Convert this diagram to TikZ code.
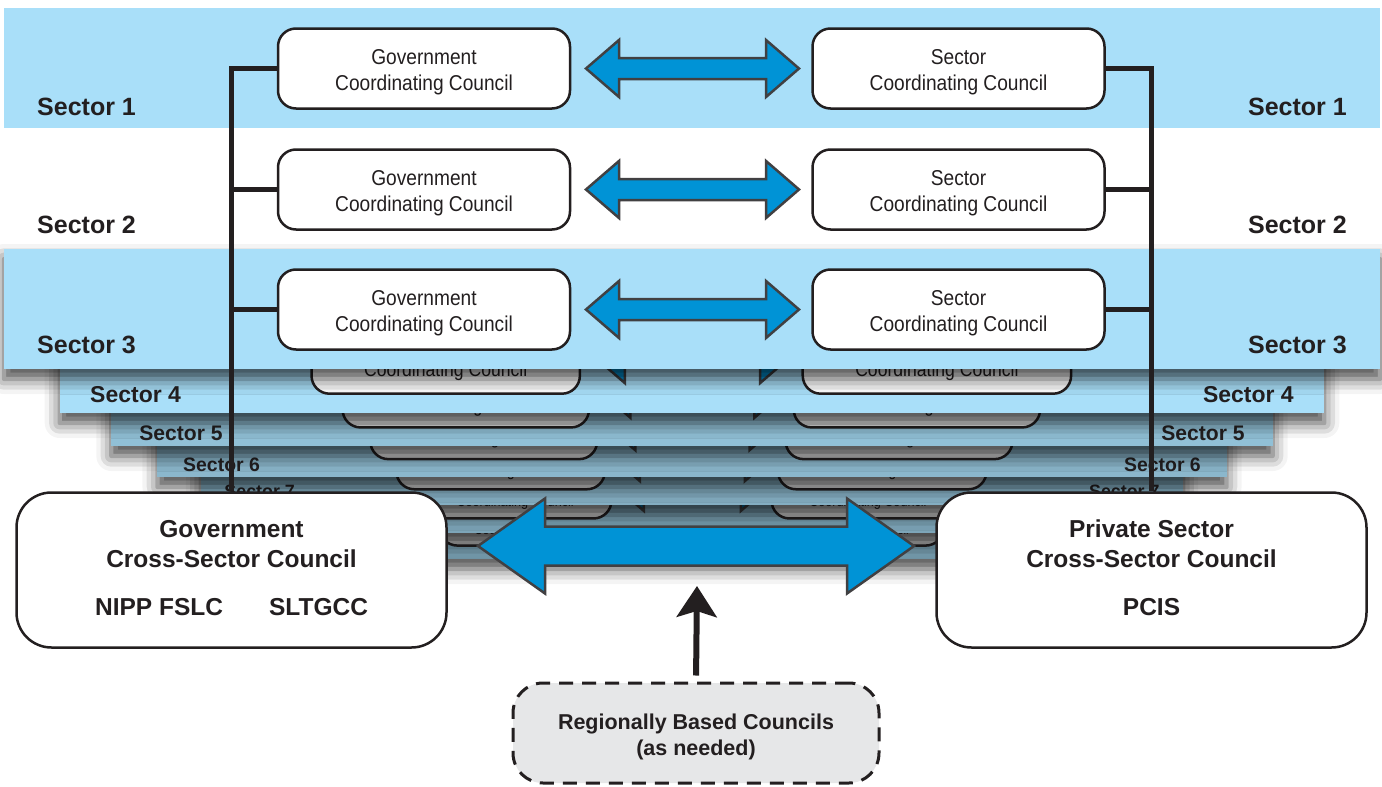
\documentclass[tikz,border=0pt]{standalone}
\usepackage{fontspec}
\setmainfont{Liberation Sans}
\newfontfamily\narrowfont[FakeStretch=0.89]{Liberation Sans}
\usetikzlibrary{arrows.meta, shadows.blur}

\definecolor{ink}{HTML}{231F20}
\definecolor{sheetblue}{HTML}{A9DFF9}
\definecolor{arrowblue}{HTML}{0093D6}
\definecolor{arrowedge}{HTML}{414042}
\definecolor{regfill}{HTML}{E6E7E8}

\tikzset{
  council/.style={draw=ink, line width=2.5pt, rounded corners=18pt,
    minimum width=292pt, minimum height=80pt, inner sep=0pt, align=center,
    text=ink, font=\narrowfont\fontsize{21.5}{26}\selectfont},
  crossbox/.style={draw=ink, fill=white, line width=2.5pt, rounded corners=35pt,
    minimum width=430pt, minimum height=155pt, inner sep=0pt, align=center,
    text=ink, font=\bfseries\fontsize{24.5}{30}\selectfont},
  regional/.style={draw=ink, fill=regfill, line width=3pt, dash pattern=on 14pt off 9pt,
    rounded corners=30pt, minimum width=366pt, minimum height=100pt, align=center,
    text=ink, font=\bfseries\fontsize{21.5}{26}\selectfont},
  sectorlabel/.style={text=ink, inner sep=0pt, font=\bfseries\fontsize{25}{30}\selectfont},
  sheetshadow/.style={blur shadow={shadow xshift=0pt, shadow yshift=-10pt,
    shadow blur radius=15pt, shadow opacity=72}},
  fatarrow/.style={draw=arrowedge, line width=2.5pt, line join=miter},
  spine/.style={draw=ink, line width=4.5pt},
  lift/.style={draw=ink, line width=6pt, shorten <=6pt,
    -{Stealth[length=31pt, width=40pt, inset=6pt]}},
}

% #1 start, #2 length, #3 head length, #4 head half width, #5 shaft half width, #6 fill
\newcommand{\fatarrow}[6]{%
  \draw[fatarrow, fill=#6] (#1) -- ++(#3,-#4) -- ++(0,#4-#5) -- ++(#2-2*#3,0)
    -- ++(0,#5-#4) -- ++(#3,#4) -- ++(-#3,#4) -- ++(0,#5-#4)
    -- ++(2*#3-#2,0) -- ++(0,#4-#5) -- cycle;}

% #1 id, #2 scale, #3 bottom, #4 band colour, #5 tint, #6 label baseline, #7 band style, #8 box centre
\newcommand{\drawsheet}[8]{%
  \begin{scope}[shift={(692,#3)}, scale=#2, transform shape]
    \colorlet{boxc}{white!#5!black}
    \colorlet{arrc}{arrowblue!#5!black}
    \path[fill=#4, #7] (-688,-120) rectangle (688,0);
    \node[council, fill=boxc] (gov#1) at (-268,#8) {\rule{0pt}{22pt}Government\\Coordinating Council};
    \node[council, fill=boxc] (sec#1) at (266.5,#8) {\rule{0pt}{22pt}Sector\\Coordinating Council};
    \coordinate (tip#1) at (-106,#8);
    \fatarrow{tip#1}{213}{33}{28.5}{10.5}{arrc}
    \node[sectorlabel, anchor=base west] (labw#1) at (-655,#6) {Sector #1};
    \node[sectorlabel, anchor=base east] (labe#1) at (655,#6) {Sector #1};
  \end{scope}}

\begin{document}
\begin{tikzpicture}[x=1pt, y=-1pt]
\useasboundingbox (0,0) rectangle (1382,787);

% sheets, from the back to the front
\drawsheet{9}{0.61}{559}{sheetblue!70!black}{76}{-9}{sheetshadow}{-62}
\drawsheet{8}{0.66}{533}{sheetblue!74!black}{80}{-9}{sheetshadow}{-62}
\drawsheet{7}{0.714}{505}{sheetblue!78!black}{83}{-10}{sheetshadow}{-62}
\drawsheet{6}{0.777}{477}{sheetblue!82!black}{86}{-6.5}{sheetshadow}{-63}
\drawsheet{5}{0.844}{446}{sheetblue!86!black}{90}{-7}{sheetshadow}{-62}
\drawsheet{4}{0.919}{413}{sheetblue}{100}{-11}{sheetshadow}{-61}
\drawsheet{1}{1}{128}{sheetblue}{100}{-13}{}{-59.5}
\drawsheet{2}{1}{249}{white}{100}{-16}{}{-59.5}
\drawsheet{3}{1}{369}{sheetblue}{100}{-16}{sheetshadow}{-59.5}

% cross-sector councils
\node[crossbox] (govx) at (231.5,570) {Government\\Cross-Sector Council\\[18pt]NIPP FSLC\hspace{46pt}SLTGCC\rule[-4pt]{0pt}{1pt}};
\node[crossbox] (privx) at (1151.5,570) {Private Sector\\Cross-Sector Council\\[18pt]PCIS\rule[-4pt]{0pt}{1pt}};

% spines
\draw[spine] (gov1.west) -| (govx.north);
\draw[spine] (gov2.west) -- (gov2.west -| govx.north);
\draw[spine] (gov3.west) -- (gov3.west -| govx.north);
\draw[spine] (sec1.east) -| (privx.north);
\draw[spine] (sec2.east) -- (sec2.east -| privx.north);
\draw[spine] (sec3.east) -- (sec3.east -| privx.north);

% big two-way arrow
\coordinate (bigtip) at (478,546);
\fatarrow{bigtip}{436}{67}{47.5}{19.5}{arrowblue}

% regional councils
\node[regional] (reg) at (696,733) {\rule{0pt}{23.5pt}Regionally Based Councils\\(as needed)};
\coordinate (liftend) at (697,586);
\draw[lift] (reg.north) -- (liftend);
\end{tikzpicture}
\end{document}
